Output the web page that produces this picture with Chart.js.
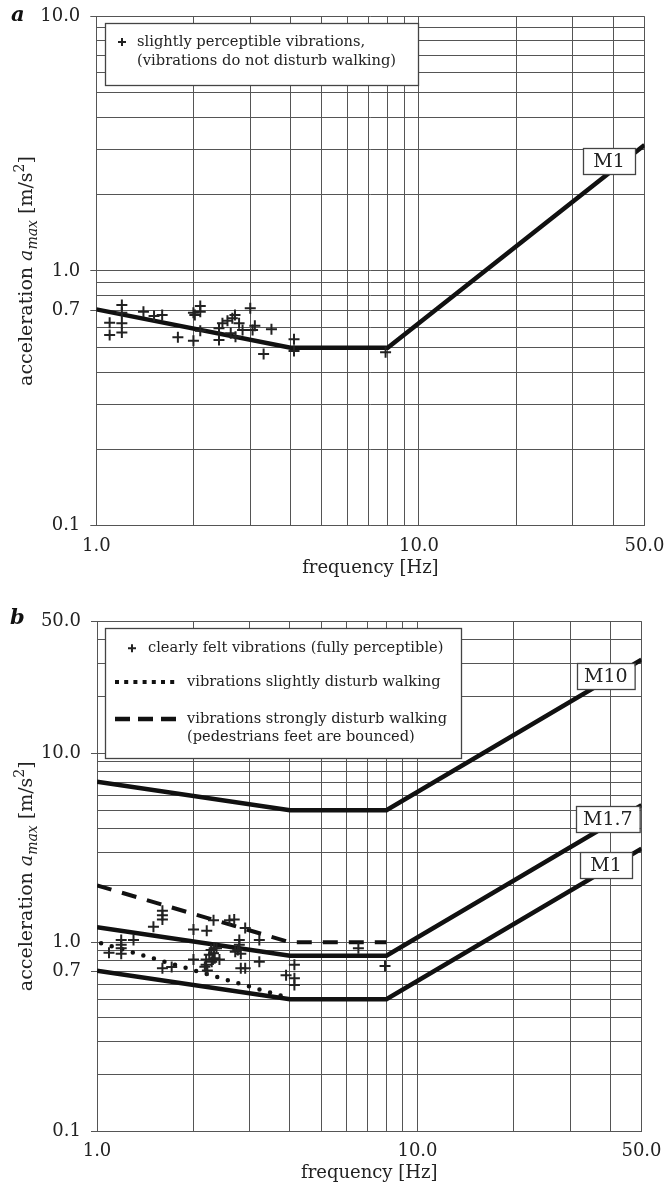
<!DOCTYPE html>
<html>
<head>
<meta charset="utf-8">
<script src="https://cdn.jsdelivr.net/npm/chart.js@4.4.4/dist/chart.umd.min.js"></script>
<style>
  html, body { margin: 0; padding: 0; background: #fff; }
  canvas { display: block; }
</style>
</head>
<body>
<canvas id="chartA" width="668" height="590"></canvas>
<canvas id="chartB" width="668" height="600"></canvas>
<script>
// limit curves (frequency in Hz, acceleration in m/s^2)
const lineFreq = [1, 4, 8, 50];
const m1Acc = [0.707, 0.5, 0.5, 3.125];
const m17Acc = [1.2, 0.85, 0.85, 5.31];
const m10Acc = [7.07, 5, 5, 31.25];

const strongFreq = [1, 4, 8];
const strongAcc = [2.0, 1.0, 1.0];
const slightFreq = [1.03, 3.85];
const slightAcc = [0.99, 0.515];

// panel a: slightly perceptible vibrations
const freqA = [1.10, 1.10, 1.20, 1.20, 1.20, 1.20, 1.40, 1.51, 1.60, 1.79, 2.00, 2.00, 2.02, 2.10, 2.10, 2.10,
  2.40, 2.40, 2.46, 2.55, 2.64, 2.69, 2.61, 2.70, 2.77, 2.84, 3.00, 3.05, 3.10, 3.30, 3.49, 4.10, 4.10, 7.88];
const accA = [0.627, 0.561, 0.735, 0.686, 0.623, 0.573, 0.692, 0.666, 0.672, 0.549, 0.532, 0.686, 0.672, 0.729, 0.692, 0.583,
  0.596, 0.536, 0.623, 0.638, 0.652, 0.672, 0.569, 0.552, 0.623, 0.586, 0.714, 0.586, 0.610, 0.472, 0.590, 0.539, 0.485, 0.48];

// panel b: clearly felt vibrations
const freqB = [1.09, 1.19, 1.19, 1.19, 1.19, 1.30, 1.50, 1.60, 1.60, 1.60, 1.60, 1.71, 2.00, 2.20, 2.00,
  2.27, 2.24, 2.19, 2.19, 2.21, 2.30, 2.41, 2.32, 2.36, 2.31, 2.33, 2.28, 2.17, 2.31, 2.59, 2.68, 2.90,
  2.78, 2.78, 2.75, 2.81, 2.70, 3.21, 3.21, 2.81, 2.90, 4.13, 3.89, 4.13, 4.13, 6.54, 7.92];
const accB = [0.88, 0.87, 0.93, 0.97, 1.03, 1.03, 1.21, 1.32, 1.39, 1.47, 0.73, 0.74, 1.17, 1.15, 0.81,
  0.91, 0.86, 0.81, 0.76, 0.71, 0.81, 0.81, 0.93, 0.93, 0.874, 0.823, 0.79, 0.743, 1.31, 1.31, 1.32, 1.19,
  1.03, 0.97, 0.91, 0.87, 0.89, 1.03, 0.79, 0.73, 0.73, 0.76, 0.67, 0.645, 0.594, 0.93, 0.75];

// axes
const xGrid = [1, 2, 3, 4, 5, 6, 7, 8, 9, 10, 20, 30, 40, 50];
const xTickLabels = [1, 10, 50];
const yGridA = [0.1, 0.2, 0.3, 0.4, 0.5, 0.6, 0.7, 0.8, 0.9, 1, 2, 3, 4, 5, 6, 7, 8, 9, 10];
const yTickLabelsA = [0.1, 0.7, 1, 10];
const yGridB = [...yGridA, 20, 30, 40, 50];
const yTickLabelsB = [0.1, 0.7, 1, 10, 50];

const FONT = "'DejaVu Serif', serif";
const INK = '#222';
const GRID = '#555';

Chart.defaults.font.family = FONT;
Chart.defaults.color = INK;

function has(list, v) {
  return list.some(t => Math.abs(t - v) < 1e-9);
}

function pts(xs, ys) {
  return xs.map((x, i) => ({ x: x, y: ys[i] }));
}

function drawPlus(ctx, x, y, r, w) {
  ctx.save();
  ctx.strokeStyle = INK;
  ctx.lineWidth = w;
  ctx.beginPath();
  ctx.moveTo(x - r, y); ctx.lineTo(x + r, y);
  ctx.moveTo(x, y - r); ctx.lineTo(x, y + r);
  ctx.stroke();
  ctx.restore();
}

function drawYTitle(ctx, cx, cy) {
  const size = 19;
  const small = Math.round(size * 0.72);
  const segs = [
    { t: 'acceleration ', f: `${size}px ${FONT}`, dy: 0 },
    { t: 'a', f: `italic ${size}px ${FONT}`, dy: 0 },
    { t: 'max', f: `italic ${small}px ${FONT}`, dy: size * 0.28 },
    { t: ' [m/s', f: `${size}px ${FONT}`, dy: 0 },
    { t: '2', f: `${small}px ${FONT}`, dy: -size * 0.42 },
    { t: ']', f: `${size}px ${FONT}`, dy: 0 }
  ];
  ctx.save();
  ctx.translate(cx, cy);
  ctx.rotate(-Math.PI / 2);
  let total = 0;
  segs.forEach(s => { ctx.font = s.f; s.w = ctx.measureText(s.t).width; total += s.w; });
  let xx = -total / 2;
  ctx.textBaseline = 'alphabetic';
  ctx.textAlign = 'left';
  ctx.fillStyle = INK;
  segs.forEach(s => {
    ctx.font = s.f;
    ctx.fillText(s.t, xx, s.dy + size * 0.36);
    xx += s.w;
  });
  ctx.restore();
}

const decor = {
  id: 'decor',
  afterDatasetsDraw(chart, args, opts) {
    const { ctx, chartArea: ca } = chart;
    const x = chart.scales.x, y = chart.scales.y;
    ctx.save();

    // legend box
    const lg = opts.legend;
    const bx = Math.round(ca.left + lg.dx), by = Math.round(ca.top + lg.dy);
    ctx.fillStyle = '#fff';
    ctx.fillRect(bx, by, lg.w, lg.h);
    ctx.strokeStyle = '#444';
    ctx.lineWidth = 1.3;
    ctx.strokeRect(bx + 0.5, by + 0.5, lg.w, lg.h);
    ctx.font = lg.font;
    ctx.fillStyle = INK;
    ctx.textBaseline = 'middle';
    ctx.textAlign = 'left';
    lg.items.forEach(it => {
      const yy = by + it.dy;
      if (it.symbol === 'plus') {
        drawPlus(ctx, bx + it.sx, yy, 4, 2);
      } else {
        ctx.save();
        ctx.strokeStyle = '#111';
        ctx.lineWidth = it.symbol === 'dot' ? 4 : 4.5;
        ctx.setLineDash(it.symbol === 'dot' ? [4, 5.2] : [15, 8]);
        ctx.beginPath();
        ctx.moveTo(bx + it.sx, yy);
        ctx.lineTo(bx + it.sx + 62, yy);
        ctx.stroke();
        ctx.restore();
      }
      it.lines.forEach((t, i) => ctx.fillText(t, bx + it.tx, yy + i * lg.lineGap));
    });

    // curve tags
    ctx.font = '19px ' + FONT;
    ctx.textAlign = 'center';
    opts.tags.forEach(tag => {
      const px = x.getPixelForValue(tag.f), py = y.getPixelForValue(tag.a);
      const w = Math.max(52, ctx.measureText(tag.text).width + 14), h = 26;
      const l = Math.round(px - w / 2), t = Math.round(py - h / 2);
      ctx.fillStyle = '#fff';
      ctx.fillRect(l, t, w, h);
      ctx.strokeStyle = '#444';
      ctx.lineWidth = 1.3;
      ctx.strokeRect(l + 0.5, t + 0.5, w, h);
      ctx.fillStyle = INK;
      ctx.fillText(tag.text, l + w / 2, t + h / 2 + 1);
    });
    ctx.restore();
  },
  afterDraw(chart, args, opts) {
    const { ctx, chartArea: ca } = chart;
    drawYTitle(ctx, 25, (ca.top + ca.bottom) / 2);
    ctx.save();
    ctx.font = 'bold italic 21px ' + FONT;
    ctx.fillStyle = '#111';
    ctx.textBaseline = 'middle';
    ctx.textAlign = 'left';
    ctx.fillText(opts.letter, opts.letterX, opts.letterY);
    ctx.restore();
  }
};

function makeChart(id, cfg) {
  return new Chart(document.getElementById(id), {
    type: 'scatter',
    data: { datasets: cfg.datasets },
    options: {
      responsive: false,
      animation: false,
      events: [],
      layout: { autoPadding: false, padding: { top: cfg.top, right: cfg.right, left: 0, bottom: 0 } },
      plugins: {
        legend: { display: false },
        tooltip: { enabled: false },
        decor: cfg.decor
      },
      scales: {
        x: {
          type: 'logarithmic',
          min: 1,
          max: 50,
          afterBuildTicks: s => { s.ticks = xGrid.map(v => ({ value: v })); },
          afterFit: s => { s.height = cfg.xHeight; },
          ticks: {
            autoSkip: false,
            maxRotation: 0,
            padding: 0,
            color: INK,
            font: { size: 18 },
            callback: v => has(xTickLabels, v) ? v.toFixed(1) : ''
          },
          // invisible tick marks only space the labels off the axis
          grid: { color: GRID, lineWidth: 1, drawTicks: true, tickLength: cfg.xTickPad, tickColor: 'rgba(0,0,0,0)' },
          border: { color: GRID, width: 1 },
          title: {
            display: true,
            text: 'frequency [Hz]',
            color: INK,
            font: { size: 18 },
            padding: { top: 0, bottom: cfg.xTitlePad }
          }
        },
        y: {
          type: 'logarithmic',
          min: 0.1,
          max: cfg.yMax,
          afterBuildTicks: s => { s.ticks = cfg.yGrid.map(v => ({ value: v })); },
          afterFit: s => { s.width = cfg.yWidth; },
          ticks: {
            autoSkip: false,
            padding: 10,
            color: INK,
            font: { size: 18, lineHeight: 0.6 },
            callback: v => has(cfg.yLabels, v) ? v.toFixed(1) : ''
          },
          grid: {
            color: GRID,
            lineWidth: 1,
            tickLength: 6,
            tickColor: c => (c.tick && has(cfg.yLabels, c.tick.value)) ? GRID : 'rgba(0,0,0,0)'
          },
          border: { color: GRID, width: 1 }
        }
      }
    },
    plugins: [decor]
  });
}

const plusStyle = {
  showLine: false,
  pointStyle: 'cross',
  pointRadius: 5.5,
  borderWidth: 2,
  borderColor: INK,
  backgroundColor: INK
};

function curve(xs, ys, extra) {
  return Object.assign({
    data: pts(xs, ys),
    showLine: true,
    pointRadius: 0,
    borderWidth: 4.5,
    borderColor: '#111',
    fill: false
  }, extra || {});
}

makeChart('chartA', {
  top: 16.3,
  right: 23.5,
  yWidth: 96.3,
  xHeight: 64.3,
  xTickPad: 10,
  xTitlePad: 11,
  yMax: 10,
  yGrid: yGridA,
  yLabels: yTickLabelsA,
  datasets: [
    Object.assign({ data: pts(freqA, accA) }, plusStyle),
    curve(lineFreq, m1Acc)
  ],
  decor: {
    letter: 'a',
    letterX: 11,
    letterY: 16,
    legend: {
      dx: 8.7, dy: 6.7, w: 313, h: 62,
      font: '14.7px ' + FONT,
      lineGap: 19,
      items: [
        { symbol: 'plus', sx: 17, dy: 19, tx: 32,
          lines: ['slightly perceptible vibrations,', '(vibrations do not disturb walking)'] }
      ]
    },
    tags: [{ text: 'M1', f: 38.8, a: 2.71 }]
  }
});

makeChart('chartB', {
  top: 31.2,
  right: 26.5,
  yWidth: 97,
  xHeight: 58.7,
  xTickPad: 9,
  xTitlePad: 6,
  yMax: 50,
  yGrid: yGridB,
  yLabels: yTickLabelsB,
  datasets: [
    Object.assign({ data: pts(freqB, accB) }, plusStyle),
    curve(slightFreq, slightAcc, { borderDash: [0, 11], borderCapStyle: 'round', borderWidth: 4.5 }),
    curve(strongFreq, strongAcc, { borderDash: [15, 11], borderWidth: 4 }),
    curve(lineFreq, m1Acc),
    curve(lineFreq, m17Acc),
    curve(lineFreq, m10Acc)
  ],
  decor: {
    letter: 'b',
    letterX: 10,
    letterY: 29,
    legend: {
      dx: 8, dy: 6.5, w: 356, h: 130,
      font: '14.6px ' + FONT,
      lineGap: 18.7,
      items: [
        { symbol: 'plus', sx: 27, dy: 20.3, tx: 43,
          lines: ['clearly felt vibrations (fully perceptible)'] },
        { symbol: 'dot', sx: 10, dy: 54, tx: 82,
          lines: ['vibrations slightly disturb walking'] },
        { symbol: 'dash', sx: 10, dy: 91, tx: 82,
          lines: ['vibrations strongly disturb walking', '(pedestrians feet are bounced)'] }
      ]
    },
    tags: [
      { text: 'M10', f: 38.7, a: 25.8 },
      { text: 'M1.7', f: 39.3, a: 4.49 },
      { text: 'M1', f: 38.7, a: 2.58 }
    ]
  }
});
</script>
</body>
</html>
